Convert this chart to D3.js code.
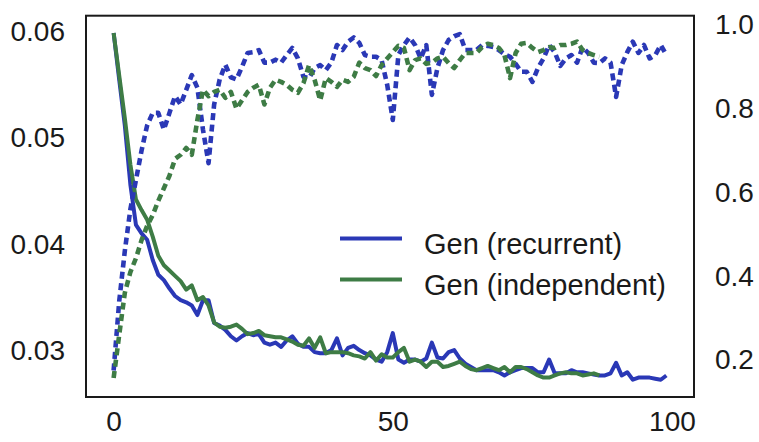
<!DOCTYPE html>
<html>
<head>
<meta charset="utf-8">
<script src="https://cdn.jsdelivr.net/npm/d3@7"></script>
<style>
  html, body { margin: 0; padding: 0; background: #fff; }
  svg { display: block; }
  text { font-family: "Liberation Sans", Arial, sans-serif; fill: #1a1a1a; }
</style>
</head>
<body>
<svg id="chart" width="759" height="442"></svg>
<script>
// Loss curves (left axis)
const lossRecurrent = [
  0.0599, 0.0555, 0.0512, 0.0456, 0.0418, 0.0410, 0.0404, 0.0385, 0.0371, 0.0366,
  0.0358, 0.0351, 0.0347, 0.0345, 0.0342, 0.0333, 0.0347, 0.0347, 0.03255, 0.0323,
  0.0319, 0.0313, 0.0309, 0.0313, 0.0316, 0.0314, 0.0315, 0.0307, 0.0305, 0.0307,
  0.0303, 0.0309, 0.0313, 0.0306, 0.0303, 0.0303, 0.0298, 0.0297, 0.0297, 0.0300,
  0.0311, 0.0295, 0.0302, 0.0304, 0.0300, 0.0297, 0.0295, 0.0291, 0.0289, 0.0298,
  0.0316, 0.0291, 0.0288, 0.0291, 0.0291, 0.0289, 0.0292, 0.0307, 0.0293, 0.0292,
  0.0298, 0.0300, 0.0292, 0.0287, 0.0284, 0.0281, 0.0281, 0.0281, 0.0281, 0.0279,
  0.0276, 0.0279, 0.0281, 0.0283, 0.0283, 0.0283, 0.0279, 0.0279, 0.0291, 0.0278,
  0.0278, 0.0278, 0.0281, 0.0279, 0.0279, 0.0278, 0.0277, 0.0276, 0.0276, 0.0278,
  0.0288, 0.0276, 0.0279, 0.0272, 0.0274, 0.0274, 0.0274, 0.0273, 0.0272, 0.0276
];
const lossIndependent = [
  0.0599, 0.0559, 0.0519, 0.0475, 0.0442, 0.0432, 0.0423, 0.0407, 0.0389, 0.0380,
  0.0375, 0.0370, 0.0365, 0.0357, 0.0361, 0.0347, 0.0350, 0.0342, 0.0326, 0.0322,
  0.0321, 0.0322, 0.0324, 0.0320, 0.0315, 0.0316, 0.0318, 0.0314, 0.0313, 0.0312,
  0.0312, 0.0310, 0.0308, 0.0305, 0.0304, 0.0311, 0.0302, 0.0312, 0.0297, 0.0298,
  0.0298, 0.0298, 0.0297, 0.0295, 0.0294, 0.0292, 0.0298, 0.0290, 0.0296, 0.0293,
  0.0293, 0.0298, 0.0302, 0.0289, 0.0291, 0.0289, 0.0284, 0.0289, 0.0289, 0.0284,
  0.0285, 0.0287, 0.0289, 0.0285, 0.0282, 0.0281, 0.0283, 0.0285, 0.0283, 0.0281,
  0.0284, 0.0279, 0.0284, 0.0284, 0.0282, 0.0279, 0.0276, 0.0274, 0.0274, 0.0276,
  0.0278, 0.0279, 0.0278, 0.0278, 0.0276, 0.0277, 0.0278, 0.0276
];
// Accuracy curves (right axis)
const accRecurrent = [
  0.175, 0.34, 0.46, 0.56, 0.63, 0.70, 0.76, 0.79, 0.79, 0.75,
  0.79, 0.83, 0.81, 0.845, 0.88, 0.85, 0.75, 0.67, 0.81, 0.87,
  0.905, 0.875, 0.87, 0.90, 0.933, 0.935, 0.94, 0.91, 0.91, 0.917,
  0.91, 0.928, 0.945, 0.92, 0.876, 0.873, 0.897, 0.904, 0.892, 0.91,
  0.952, 0.94, 0.96, 0.97, 0.957, 0.928, 0.924, 0.924, 0.916, 0.857,
  0.773, 0.928, 0.952, 0.97, 0.952, 0.92, 0.952, 0.833, 0.897, 0.94,
  0.964, 0.973, 0.978, 0.94, 0.94, 0.94, 0.952, 0.95, 0.947, 0.94,
  0.93, 0.924, 0.907, 0.888, 0.888, 0.864, 0.897, 0.92, 0.952, 0.935,
  0.902, 0.92, 0.928, 0.91, 0.947, 0.933, 0.91, 0.909, 0.92, 0.91,
  0.828, 0.904, 0.935, 0.96, 0.933, 0.952, 0.92, 0.928, 0.952, 0.928
];
const accIndependent = [
  0.157, 0.26, 0.36, 0.41, 0.443, 0.486, 0.52, 0.546, 0.58, 0.61,
  0.64, 0.68, 0.69, 0.706, 0.69, 0.773, 0.845, 0.83, 0.84, 0.845,
  0.826, 0.84, 0.80, 0.82, 0.84, 0.85, 0.857, 0.81, 0.85, 0.869,
  0.864, 0.857, 0.845, 0.838, 0.861, 0.904, 0.869, 0.82, 0.873, 0.864,
  0.852, 0.869, 0.864, 0.876, 0.91, 0.897, 0.892, 0.878, 0.904, 0.92,
  0.935, 0.95, 0.945, 0.892, 0.916, 0.92, 0.907, 0.91, 0.92, 0.924,
  0.909, 0.897, 0.916, 0.933, 0.933, 0.933, 0.947, 0.955, 0.952, 0.945,
  0.928, 0.873, 0.933, 0.955, 0.957, 0.945, 0.935, 0.94, 0.947, 0.945,
  0.952, 0.952, 0.955, 0.96, 0.94, 0.933, 0.928, 0.924
];

const xTicks = [0, 50, 100];
const leftTicks = [0.03, 0.04, 0.05, 0.06];
const rightTicks = [0.2, 0.4, 0.6, 0.8, 1.0];
const legendLabels = ["Gen (recurrent)", "Gen (independent)"];

const BLUE = "#2a38b6";
const GREEN = "#3e7c45";

const frame = { left: 86, right: 694, top: 15.7, bottom: 397 };

const x = d3.scaleLinear().domain([-4.95, 103.95]).range([frame.left, frame.right]);
const yLeft = d3.scaleLinear().domain([0.02557, 0.06154]).range([frame.bottom, frame.top]);
const yRight = d3.scaleLinear().domain([0.1116, 1.022]).range([frame.bottom, frame.top]);

const svg = d3.select("#chart");

const plot = svg.append("g");
plot.append("clipPath").attr("id", "clip")
  .append("rect")
  .attr("x", frame.left).attr("y", frame.top)
  .attr("width", frame.right - frame.left).attr("height", frame.bottom - frame.top);

// Solid loss lines first, dashed accuracy lines (twin axis) on top
const series = [
  { values: lossRecurrent, y: yLeft, color: BLUE, dash: null, width: 4 },
  { values: lossIndependent, y: yLeft, color: GREEN, dash: null, width: 4 },
  { values: accRecurrent, y: yRight, color: BLUE, dash: "7,4.5", width: 4.6 },
  { values: accIndependent, y: yRight, color: GREEN, dash: "7,4.5", width: 4.6 }
];

const lines = plot.append("g").attr("clip-path", "url(#clip)");
series.forEach(s => {
  const gen = d3.line().x((d, i) => x(i)).y(d => s.y(d));
  lines.append("path")
    .attr("d", gen(s.values))
    .attr("fill", "none")
    .attr("stroke", s.color)
    .attr("stroke-width", s.width)
    .attr("stroke-linejoin", "round")
    .attr("stroke-dasharray", s.dash);
});

// Frame
svg.append("rect")
  .attr("x", frame.left).attr("y", frame.top)
  .attr("width", frame.right - frame.left).attr("height", frame.bottom - frame.top)
  .attr("fill", "none").attr("stroke", "#1a1a1a").attr("stroke-width", 2);

// Axes: labels only, no tick marks or domain lines
const fontSize = 28;
const styleAxis = g => {
  g.select(".domain").remove();
  g.selectAll(".tick line").remove();
  g.selectAll(".tick text")
    .attr("font-size", fontSize)
    .attr("font-family", "Liberation Sans, Arial, sans-serif")
    .attr("fill", "#1a1a1a");
};

svg.append("g")
  .attr("transform", `translate(0,${frame.bottom})`)
  .call(d3.axisBottom(x).tickValues(xTicks).tickSize(0).tickPadding(14).tickFormat(d3.format("d")))
  .call(styleAxis);

svg.append("g")
  .attr("transform", `translate(${frame.left},0)`)
  .call(d3.axisLeft(yLeft).tickValues(leftTicks).tickSize(0).tickPadding(21).tickFormat(d3.format(".2f")))
  .call(styleAxis);

svg.append("g")
  .attr("transform", `translate(${frame.right},0)`)
  .call(d3.axisRight(yRight).tickValues(rightTicks).tickSize(0).tickPadding(21).tickFormat(d3.format(".1f")))
  .call(styleAxis);

// Legend
const legend = svg.append("g");
[BLUE, GREEN].forEach((c, i) => {
  const ly = 238.5 + i * 41;
  legend.append("line")
    .attr("x1", 340).attr("x2", 402).attr("y1", ly).attr("y2", ly)
    .attr("stroke", c).attr("stroke-width", 4);
  legend.append("text")
    .attr("x", 424).attr("y", ly + 15)
    .attr("font-size", 29)
    .text(legendLabels[i]);
});
</script>
</body>
</html>
